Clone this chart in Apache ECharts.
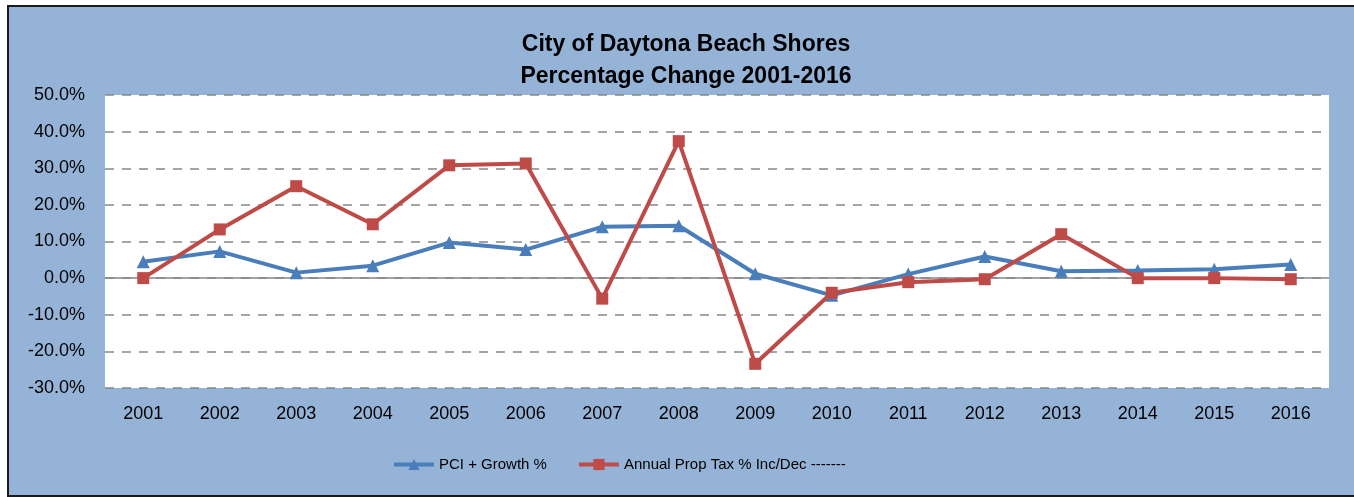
<!DOCTYPE html>
<html>
<head>
<meta charset="utf-8">
<script src="https://cdn.jsdelivr.net/npm/echarts@6/dist/echarts.min.js"></script>
<style>
body{margin:0;background:#fff;}
#chart{position:absolute;left:7px;top:5px;width:1360px;height:488px;border:2px solid #1a1a1a;background:#95B3D7;}
</style>
</head>
<body>
<div id="chart"></div>
<script>
var years=['2001','2002','2003','2004','2005','2006','2007','2008','2009','2010','2011','2012','2013','2014','2015','2016']
var pciGrowth=[4.5,7.3,1.5,3.4,9.7,7.8,14.0,14.3,1.2,-4.7,1.1,5.9,1.9,2.1,2.4,3.7]
var propTax=[0,13.3,25.1,14.7,30.8,31.3,-5.6,37.4,-23.4,-4.0,-1.1,-0.3,12.0,0,0,-0.3]
var yMin=-30,yMax=50,yStep=10

var font='"Liberation Sans", Arial, sans-serif'
var myChart=echarts.init(document.getElementById('chart'))
var option={
  animation:false,
  title:{
    text:'City of Daytona Beach Shores\nPercentage Change 2001-2016',
    left:672,
    top:17,
    textAlign:'center',
    textStyle:{fontFamily:font,fontSize:23,fontWeight:'bold',color:'#000',lineHeight:32}
  },
  legend:{
    left:378,
    top:445,
    itemWidth:40,
    itemHeight:14,
    itemGap:30,
    lineStyle:{width:4},
    textStyle:{fontFamily:font,fontSize:15,color:'#000'},
    data:['PCI + Growth %','Annual Prop Tax % Inc/Dec -------']
  },
  grid:{
    left:96,
    top:88,
    width:1224,
    height:293,
    show:true,
    backgroundColor:'#fff',
    borderWidth:0
  },
  xAxis:{
    type:'category',
    data:years,
    boundaryGap:true,
    axisLine:{show:false,onZero:false},
    axisTick:{show:false},
    axisLabel:{fontFamily:font,fontSize:18,color:'#000',margin:17}
  },
  yAxis:{
    type:'value',
    min:yMin,
    max:yMax,
    interval:yStep,
    axisLine:{show:false},
    axisTick:{show:false},
    axisLabel:{fontFamily:font,fontSize:18,color:'#000',margin:20,formatter:function(v){return v.toFixed(1)+'%'}},
    splitLine:{show:true,lineStyle:{color:'#868686',width:1.5,type:[9,8]}}
  },
  series:[
    {
      name:'PCI + Growth %',
      type:'line',
      data:pciGrowth,
      symbol:'triangle',
      symbolSize:13,
      lineStyle:{color:'#4A7EBB',width:4},
      itemStyle:{color:'#4A7EBB'},
      z:3,
      markLine:{
        silent:true,
        symbol:'none',
        label:{show:false},
        lineStyle:{color:'#868686',width:1.5,type:'solid'},
        data:[{yAxis:0}],
        z:1
      }
    },
    {
      name:'Annual Prop Tax % Inc/Dec -------',
      type:'line',
      data:propTax,
      symbol:'rect',
      symbolSize:12,
      lineStyle:{color:'#BE4B48',width:4},
      itemStyle:{color:'#BE4B48'},
      z:4
    }
  ]
}
myChart.setOption(option,true)
window.addEventListener('resize',()=>{
  myChart.resize()
})
</script>
</body>
</html>
